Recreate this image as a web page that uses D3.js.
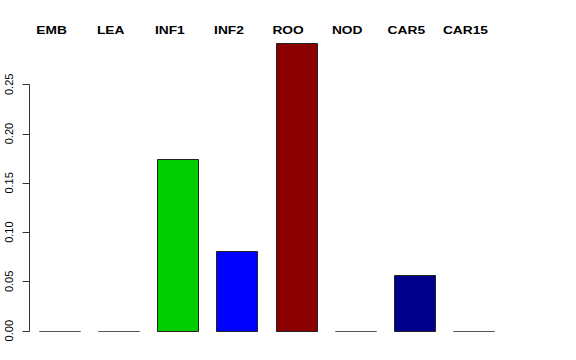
<!DOCTYPE html>
<html>
<head>
<meta charset="utf-8">
<script src="https://cdn.jsdelivr.net/npm/d3@7"></script>
<style>
  body { margin: 0; background: #fff; }
  text { font-family: "Liberation Sans", Arial, sans-serif; }
</style>
</head>
<body>
<div id="chart"></div>
<script>
// data
const categories = ["EMB", "LEA", "INF1", "INF2", "ROO", "NOD", "CAR5", "CAR15"];
const values = [0, 0, 0.174, 0.081, 0.292, 0, 0.057, 0];
const colors = ["#bebebe", "#bebebe", "#00cd00", "#0000ff", "#8b0000", "#bebebe", "#00008b", "#bebebe"];
const yTicks = [0, 0.05, 0.10, 0.15, 0.20, 0.25];

const W = 576, H = 360;

const svg = d3.select("#chart")
    .append("svg")
    .attr("width", W)
    .attr("height", H);

const x = d3.scaleBand().domain(categories).range([39, 494]).paddingInner(0.305).paddingOuter(0);
const y = d3.scaleLinear().domain([0, 0.25]).range([330.7, 84.3]);

// bars drawn as paths so zero-height bars still show a line
svg.append("g")
    .selectAll("path")
    .data(categories)
    .join("path")
    .attr("d", (c, i) => {
        const x0 = Math.round(x(c)) + 0.5, x1 = Math.round(x(c) + x.bandwidth()) + 0.5;
        const y0 = Math.round(y(0)) + 0.5, y1 = Math.round(y(values[i])) + 0.5;
        return `M${x0},${y0}V${y1}H${x1}V${y0}Z`;
    })
    .attr("fill", (c, i) => colors[i])
    .attr("stroke", (c, i) => values[i] === 0 ? "#555" : "#222")
    .attr("stroke-width", 1);

// y axis, R style
const axis = svg.append("g").attr("transform", "translate(29.5,0)");
axis.append("line")
    .attr("y1", Math.round(y(0)) + 0.5)
    .attr("y2", Math.round(y(0.25)) + 0.5)
    .attr("stroke", "#333");
axis.selectAll(".tick")
    .data(yTicks)
    .join("line")
    .attr("class", "tick")
    .attr("x1", -7).attr("x2", 0)
    .attr("y1", d => Math.round(y(d)) + 0.5)
    .attr("y2", d => Math.round(y(d)) + 0.5)
    .attr("stroke", "#333");
axis.selectAll(".lab")
    .data(yTicks)
    .join("text")
    .attr("class", "lab")
    .attr("transform", d => `translate(-16.5,${y(d)}) rotate(-90)`)
    .attr("text-anchor", "middle")
    .attr("font-size", 11)
    .attr("fill", "#000")
    .text(d => d.toFixed(2));

// category labels on top
svg.append("g")
    .selectAll("text")
    .data(categories)
    .join("text")
    .attr("transform", c => `translate(${x(c) + x.bandwidth() / 2 - 8},34) scale(1.25,1)`)
    .attr("text-anchor", "middle")
    .attr("font-size", 11)
    .attr("font-weight", "bold")
    .text(c => c);
</script>
</body>
</html>
